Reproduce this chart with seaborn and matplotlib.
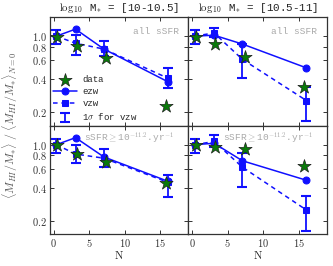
import matplotlib
matplotlib.use('Agg')
import matplotlib.pyplot as plt
import seaborn as sns
import pandas as pd
from matplotlib.ticker import FixedLocator, NullLocator, FixedFormatter

# ---- data ----
N_model = [0.4, 3.1, 7.1, 16.1]
N_data = [0.5, 3.3, 7.4, 15.8]

titles = [r'$\log_{10}$ M$_{*}$ = [10-10.5]', r'$\log_{10}$ M$_{*}$ = [10.5-11]']
notes = ['all sSFR', r'sSFR$\geq$10$^{-11.2}$.yr$^{-1}$']

tl_data = [0.985, 0.81, 0.63, 0.225]
tl_ezw = [1.0, 1.16, 0.76, 0.38]
tl_vzw = [1.0, 0.86, 0.76, 0.41]
tl_lo = [0.845, 0.67, 0.66, 0.33]
tl_hi = [1.13, 1.02, 0.905, 0.51]

tr_data = [0.985, 0.845, 0.64, 0.34]
tr_ezw = [1.0, 1.02, 0.845, 0.51]
tr_vzw = [1.0, 1.07, 0.61, 0.255]
tr_lo = [0.845, 0.985, 0.41, 0.165]
tr_hi = [1.13, 1.2, 0.845, 0.34]

bl_data = [1.0, 0.82, 0.695, 0.44]
bl_ezw = [1.0, 1.16, 0.77, 0.46]
bl_vzw = [1.0, 0.82, 0.75, 0.45]
bl_lo = [0.845, 0.675, 0.62, 0.33]
bl_hi = [1.13, 1.0, 0.91, 0.52]

br_data = [1.0, 0.96, 0.91, 0.64]
br_ezw = [1.0, 1.03, 0.71, 0.47]
br_vzw = [1.0, 1.07, 0.62, 0.25]
br_lo = [0.845, 0.95, 0.41, 0.16]
br_hi = [1.13, 1.22, 0.83, 0.335]

yticks = [0.2, 0.4, 0.6, 0.8, 1.0]
xticks = [0, 5, 10, 15]

sns.set_style('ticks')
plt.rcParams['font.family'] = ['Liberation Mono', 'DejaVu Sans Mono']
plt.rcParams['mathtext.fontset'] = 'cm'
plt.rcParams['axes.edgecolor'] = '#333333'
plt.rcParams['xtick.color'] = '#333333'
plt.rcParams['ytick.color'] = '#333333'

blue = '#1010ff'
green = '#0a7a0a'

fig, axes = plt.subplots(2, 2, figsize=(3.33, 2.66), dpi=100)
fig.subplots_adjust(left=0.150, right=0.982, top=0.936, bottom=0.120,
                    wspace=0, hspace=0)

panels = [
    (axes[0, 0], tl_data, tl_ezw, tl_vzw, tl_lo, tl_hi),
    (axes[0, 1], tr_data, tr_ezw, tr_vzw, tr_lo, tr_hi),
    (axes[1, 0], bl_data, bl_ezw, bl_vzw, bl_lo, bl_hi),
    (axes[1, 1], br_data, br_ezw, br_vzw, br_lo, br_hi),
]

for i, (ax, dat, ezw, vzw, lo, hi) in enumerate(panels):
    row, col = divmod(i, 2)
    df_m = pd.DataFrame({'N': N_model, 'ezw': ezw, 'vzw': vzw})
    df_d = pd.DataFrame({'N': N_data, 'data': dat})

    sns.lineplot(data=df_m, x='N', y='ezw', ax=ax, color=blue, lw=1.1,
                 marker='o', markersize=5, markeredgecolor=blue, label='ezw')
    sns.lineplot(data=df_m, x='N', y='vzw', ax=ax, color=blue, lw=1.1,
                 ls=(0, (3, 2.5)), marker='s', markersize=5,
                 markeredgecolor=blue, label='vzw')
    yerr = [[v - l for v, l in zip(vzw, lo)], [h - v for v, h in zip(vzw, hi)]]
    ax.errorbar(N_model, vzw, yerr=yerr, fmt='none', ecolor=blue,
                elinewidth=1.3, capsize=3.5, capthick=1.5, label=r'1$\sigma$ for vzw')
    sns.scatterplot(data=df_d, x='N', y='data', ax=ax, marker='*', s=100,
                    color=green, edgecolor='#222222', linewidth=0.5,
                    zorder=5, label='data')

    ax.set_yscale('log')
    ax.set_ylim(0.15, 1.5)
    ax.set_xlim(-0.5, 19)
    ax.yaxis.set_major_locator(FixedLocator(yticks))
    ax.yaxis.set_minor_locator(NullLocator())
    ax.xaxis.set_major_locator(FixedLocator(xticks))
    ax.tick_params(direction='in', top=True, right=True, length=3, width=0.7,
                   labelsize=7.5, pad=2)
    for sp in ax.spines.values():
        sp.set_linewidth(0.9)
    ax.set_xlabel('')
    ax.set_ylabel('')

    if col == 0:
        ax.yaxis.set_major_formatter(FixedFormatter(['$%.1f$' % t for t in yticks]))
    else:
        ax.set_yticklabels([])
    if row == 1:
        ax.xaxis.set_major_formatter(FixedFormatter(['$%d$' % t for t in xticks]))
        ax.set_xlabel(r'$\mathrm{N}$', fontsize=8, labelpad=0)
    else:
        ax.set_xticklabels([])
        ax.set_title(titles[col], fontsize=7.8, pad=4, color='#222222')

    ax.text(0.93 if row == 0 else 0.9, 0.87 if row == 0 else 0.885, notes[row],
            transform=ax.transAxes, ha='right', va='center', fontsize=6.8,
            color='#aaaaaa')

    leg = ax.get_legend()
    if leg is not None:
        leg.remove()

# legend in top-left panel
ax = axes[0, 0]
h, l = ax.get_legend_handles_labels()
order = [l.index('data'), l.index('ezw'), l.index('vzw'), l.index(r'1$\sigma$ for vzw')]
ax.legend([h[k] for k in order], [l[k] for k in order], loc='lower left',
          bbox_to_anchor=(-0.02, -0.03), frameon=False, fontsize=6.5,
          handlelength=2.6, labelspacing=0.35, handletextpad=0.6,
          borderaxespad=0.3)

fig.text(0.03, 0.53,
         r'$\langle M_{HI}/M_{*}\rangle\ /\ \langle M_{HI}/M_{*}\rangle_{N=0}$',
         rotation=90, ha='center', va='center', fontsize=8.5, color='#555555')

fig.savefig('out.png', dpi=100)
